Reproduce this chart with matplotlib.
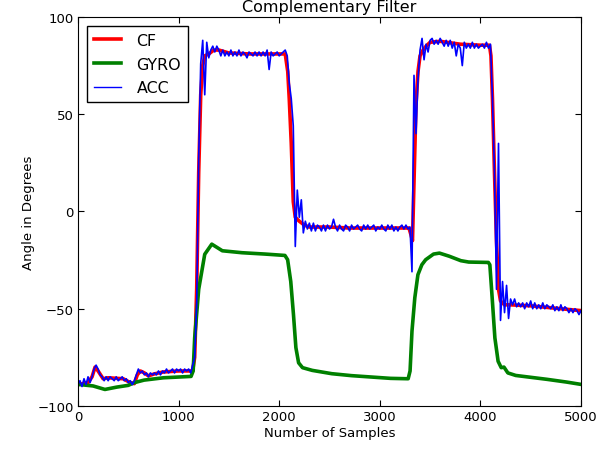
import matplotlib
matplotlib.use('Agg')

import matplotlib.pyplot as plt
import numpy as np

# accelerometer angle, one value every 20 samples
acc_step = 20
acc = [
    -89, -87, -90, -86, -89, -85, -88, -85, -81, -79,
    -81, -84, -85, -87, -85, -87, -85, -86, -87, -85,
    -87, -86, -85, -87, -86, -88, -87, -89, -87, -84,
    -81, -83, -82, -84, -83, -85, -83, -84, -83, -84,
    -82, -84, -82, -83, -81, -83, -82, -81, -83, -81,
    -82, -81, -83, -81, -82, -81, -83, -79,
    -75, -48, 28, 76, 88, 60, 87, 79,
    83, 85, 82, 85, 83, 80, 83, 80, 82, 80,
    83, 80, 82, 80, 83, 80, 82, 81, 79, 82,
    81, 80, 82, 80, 82, 80, 82, 80, 83, 73,
    82, 80, 81, 82, 80, 81, 82, 83,
    80, 66, 58, 44, -18, 11, -3, 6, -11, -5, -9,
    -6, -10, -6, -10, -7, -8, -10, -7, -10, -7,
    -9, -8, -4, -8, -10, -7, -9, -10, -7, -8,
    -10, -7, -9, -8, -7, -9, -10, -7, -9, -7,
    -9, -8, -7, -10, -8, -9, -7, -9, -10, -7,
    -9, -7, -10, -8, -10, -8, -7, -9, -7, -9,
    -8, -31, 70, 40, 68, 83, 89, 78, 86, 82,
    88, 89, 86, 88, 86, 89, 87, 85, 88, 85,
    88, 84, 87, 80, 86, 84, 75, 87, 84, 86,
    84, 87, 84, 86, 84, 85, 86, 84, 87, 84,
    86, 58, 20, -40, 35, -56, -36, -52, -38, -55, -45,
    -48, -45, -49, -47, -49, -47, -50, -47, -49, -46,
    -50, -47, -50, -48, -50, -47, -50, -48, -49, -50,
    -48, -51, -49, -51, -48, -51, -49, -50, -52, -50,
    -52, -50, -51, -53, -51,
]

# complementary filter output
cf_x = [0, 100, 140, 170, 200, 250, 300, 450, 520, 560, 590, 620, 660, 700, 760,
        850, 1000, 1100, 1140, 1160, 1180, 1200, 1220, 1240, 1260, 1300, 1350,
        1400, 1500, 1700, 1900, 2060, 2085, 2100, 2120, 2140, 2160, 2200, 2250,
        2300, 2500, 2700, 2900, 3100, 3290, 3310, 3325, 3340, 3360, 3380, 3400,
        3430, 3460, 3500, 3600, 3800, 4000, 4090, 4105, 4120, 4140, 4160, 4180,
        4200, 4240, 4300, 4500, 4700, 4900, 5000]
cf = [-89, -88, -85, -80, -82, -86, -85.5, -86, -88, -88.5, -84, -82, -83, -84.5,
      -83.5, -82.5, -82, -82, -82, -75, -40, 20, 60, 75, 80, 81, 83, 83, 81.5,
      81, 81, 81, 72, 58, 35, 5, -3, -5, -7, -8, -8, -8.5, -8.5, -8.5, -8.5,
      -12, -15, 15, 55, 72, 80, 83, 85, 87, 87.5, 86, 85.5, 85.5, 80, 58, 20,
      -15, -40, -46, -48, -48, -48.5, -49.5, -50.5, -51]

# gyroscope integrated angle
gyro_x = [0, 150, 268, 385, 500, 560, 657, 850, 1124, 1145, 1160, 1200, 1260,
          1330, 1435, 1630, 1862, 2057, 2084, 2115, 2142, 2166, 2193, 2232, 2329,
          2523, 2718, 2912, 3107, 3282, 3301, 3320, 3348, 3379, 3418, 3456, 3534,
          3593, 3690, 3806, 3884, 4079, 4094, 4117, 4144, 4176, 4207, 4234, 4273,
          4351, 4662, 4856, 5000]
gyro = [-88.9, -89.7, -91.5, -90.3, -89.4, -88, -86.7, -85.5, -84.8, -82, -65,
        -40, -22, -16.8, -20.2, -21.2, -21.9, -22.6, -24.8, -36, -53, -70, -77.8,
        -80.3, -81.7, -83.4, -84.4, -85.1, -85.8, -86, -82, -61.5, -44.4, -32.5,
        -27.4, -24.8, -21.9, -21.4, -23, -25.3, -26, -26.2, -27.4, -44.4, -65,
        -77, -80.3, -80, -83, -84.3, -86.3, -87.7, -88.9]

acc_x = np.arange(len(acc)) * acc_step

fig = plt.figure(figsize=(6.13, 4.52), dpi=100)
ax = fig.add_axes([0.1272, 0.0996, 0.8206, 0.8606])

ax.plot(cf_x, cf, color='r', lw=2.6, label='CF')
ax.plot(gyro_x, gyro, color='g', lw=2.6, label='GYRO')
ax.plot(acc_x, acc, color='b', lw=1.2, label='ACC')

ax.set_xlim(0, 5000)
ax.set_ylim(-100, 100)
ax.set_xticks([0, 1000, 2000, 3000, 4000, 5000])
ax.set_yticks([-100, -50, 0, 50, 100])
ax.tick_params(direction='in', top=True, right=True, length=4, labelsize=9.5, pad=3)

ax.set_title('Complementary Filter', fontsize=11.5, pad=4)
ax.set_xlabel('Number of Samples', fontsize=9.5, labelpad=2)
ax.set_ylabel('Angle in Degrees', fontsize=9.5, labelpad=2)

leg = ax.legend(loc='upper left', fontsize=11.4, fancybox=False, handlelength=1.7,
                borderaxespad=0.55, labelspacing=0.55, handletextpad=1.0,
                borderpad=0.45)
leg.get_frame().set_edgecolor('black')
leg.get_frame().set_alpha(1)
leg.get_lines()[2].set_linewidth(1.0)

fig.savefig('out.png', dpi=100)
plt.close(fig)
